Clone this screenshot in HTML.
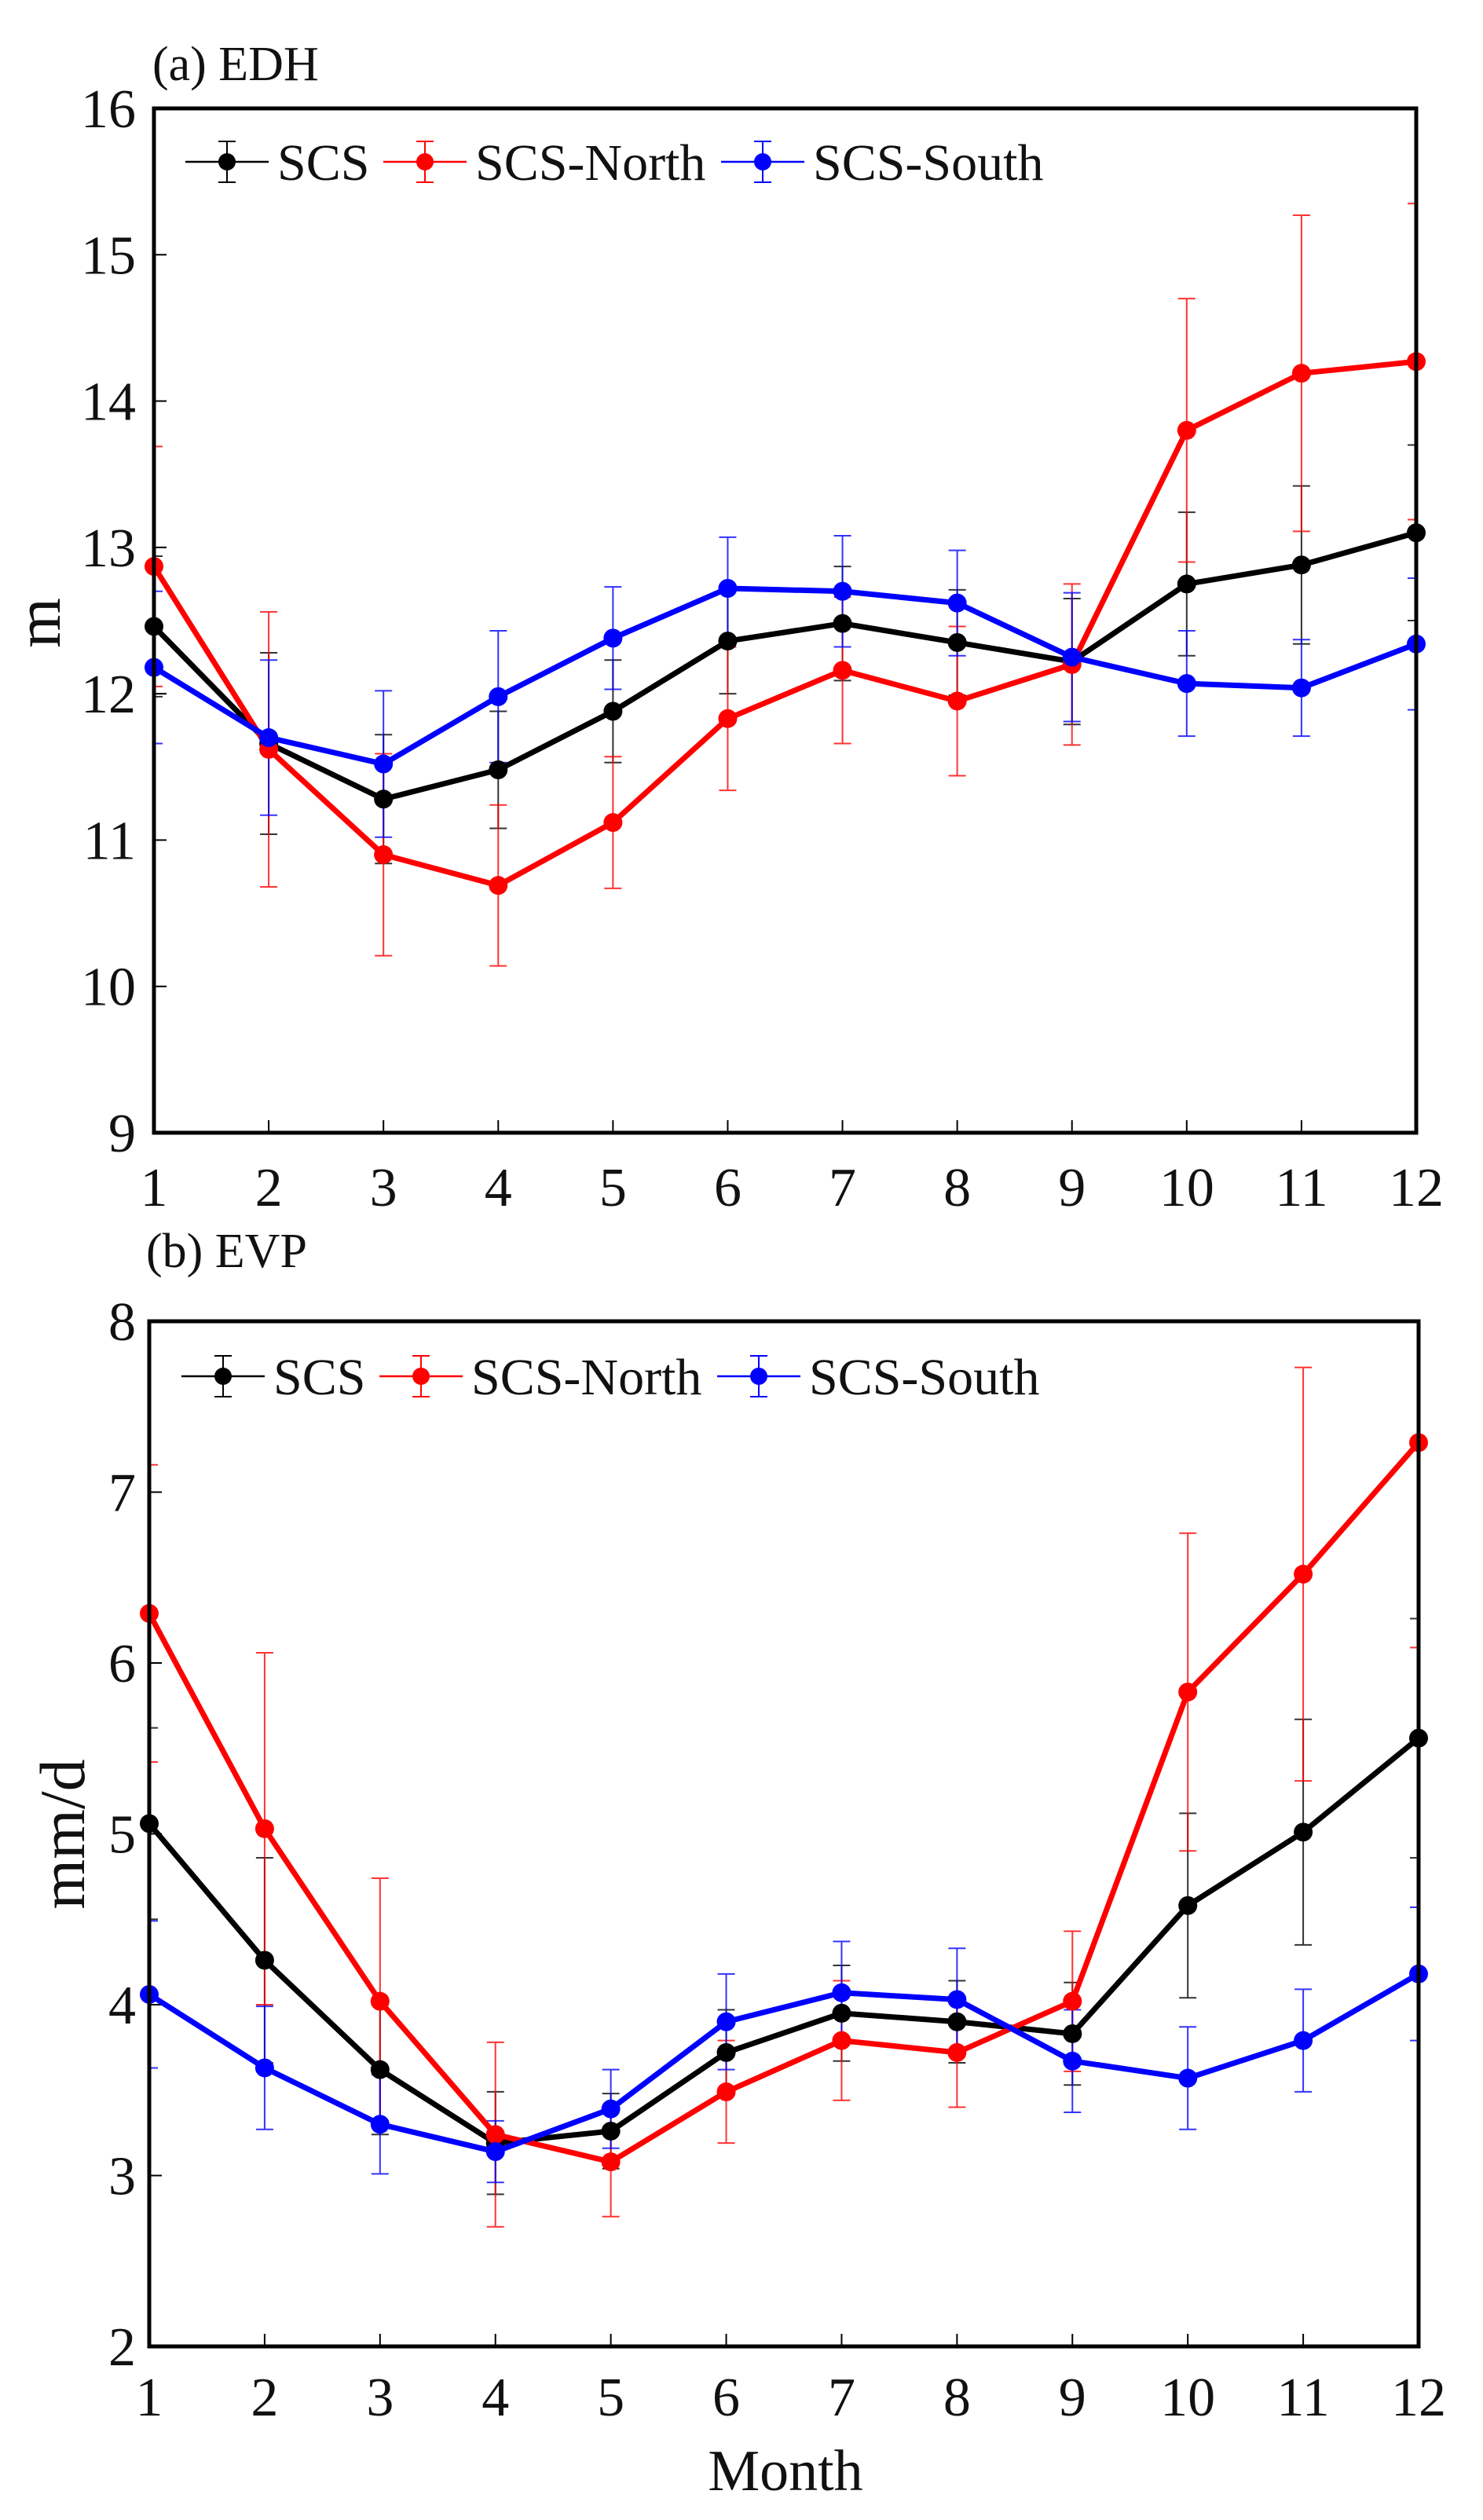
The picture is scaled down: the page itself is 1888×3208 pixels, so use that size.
<!DOCTYPE html>
<html><head><meta charset="utf-8"><style>
html,body{margin:0;padding:0;background:#fff;}
svg{display:block;}
text{font-family:"Liberation Serif","Times New Roman",serif;fill:#111;}
</style></head><body>
<svg id="chart" width="1888" height="3208" viewBox="0 0 1888 3208" xmlns="http://www.w3.org/2000/svg" font-family="Liberation Serif, serif">
<defs>
<clipPath id="clipA"><rect x="196" y="138" width="1607" height="1304"/></clipPath>
<clipPath id="clipB"><rect x="190" y="1682" width="1616" height="1305"/></clipPath>
</defs>
<g id="panelA"></g>
<g id="panelB"></g>
</svg>
<script>
const months = [1,2,3,4,5,6,7,8,9,10,11,12];
const seriesNames = ["SCS","SCS-North","SCS-South"];
const seriesColors = ["#000000","#ff0000","#0000ff"];

// Panel (a) EDH
const edhTicks = [9,10,11,12,13,14,15,16];
const edhSCS = [12.46,11.66,11.28,11.48,11.88,12.36,12.48,12.35,12.22,12.75,12.88,13.10];
const edhSCSErr = [0.48,0.62,0.44,0.40,0.35,0.36,0.39,0.36,0.43,0.49,0.54,0.60];
const edhNorth = [12.87,11.62,10.90,10.69,11.12,11.83,12.16,11.95,12.20,13.80,14.19,14.27];
const edhNorthErr = [0.82,0.94,0.69,0.55,0.45,0.49,0.50,0.51,0.55,0.90,1.08,1.08];
const edhSouth = [12.18,11.70,11.52,11.98,12.38,12.72,12.70,12.62,12.25,12.07,12.04,12.34];
const edhSouthErr = [0.52,0.53,0.50,0.45,0.35,0.35,0.38,0.36,0.44,0.36,0.33,0.45];

// Panel (b) EVP
const evpTicks = [2,3,4,5,6,7,8];
const evpSCS = [5.06,4.26,3.62,3.19,3.26,3.72,3.95,3.90,3.83,4.58,5.01,5.56];
const evpSCSErr = [0.56,0.60,0.38,0.30,0.22,0.25,0.28,0.24,0.30,0.54,0.66,0.70];
const evpNorth = [6.29,5.03,4.02,3.24,3.08,3.49,3.79,3.72,4.02,5.83,6.52,7.29];
const evpNorthErr = [0.87,1.03,0.72,0.54,0.32,0.30,0.35,0.32,0.41,0.93,1.21,1.20];
const evpSouth = [4.06,3.63,3.30,3.14,3.39,3.90,4.07,4.03,3.67,3.57,3.79,4.18];
const evpSouthErr = [0.43,0.36,0.29,0.18,0.23,0.28,0.30,0.30,0.30,0.30,0.30,0.39];

const NS = "http://www.w3.org/2000/svg";
function mk(tag, attrs, parent){
  const e = document.createElementNS(NS, tag);
  for (const k in attrs) e.setAttribute(k, attrs[k]);
  parent.appendChild(e);
  return e;
}

function drawPanel(g, cfg){
  const L=cfg.left, R=cfg.right, T=cfg.top, B=cfg.bottom;
  const ymin=cfg.ticks[0], ymax=cfg.ticks[cfg.ticks.length-1];
  const xs = m => L + (m-1)*(R-L)/11;
  const ys = v => B - (v-ymin)*(B-T)/(ymax-ymin);

  const title = mk("text",{x:cfg.titleX,y:cfg.titleY,"font-size":62},g);
  title.textContent = cfg.title;
  
  

  cfg.ticks.forEach(t=>{
    const y=ys(t);
    const tk=mk("line",{x1:L,x2:L+16,y1:y,y2:y,stroke:"#000","stroke-width":2},g);
    
    
    const lb=mk("text",{x:173,y:y+24,"font-size":70,"text-anchor":"end"},g);
    lb.textContent=t;
    
    
  });
  months.forEach(m=>{
    const x=xs(m);
    const tk=mk("line",{x1:x,x2:x,y1:B,y2:B-16,stroke:"#000","stroke-width":2},g);
    
    
    const lb=mk("text",{x:x,y:cfg.xlabY,"font-size":70,"text-anchor":"middle"},g);
    lb.textContent=m;
    
    
  });

  const yt=mk("text",{x:0,y:0,"font-size":82,"text-anchor":"middle",transform:`translate(${cfg.ylabX},${cfg.ylabY}) rotate(-90)`},g);
  yt.textContent=cfg.ylab;
  
  

  const clipG=mk("g",{"clip-path":`url(#${cfg.clip})`},g);
  cfg.series.forEach((s,i)=>{
    const col=seriesColors[i];
    const sg=mk("g",{},clipG);
    
    
    s.vals.forEach((v,k)=>{
      const x=xs(months[k]), y1=ys(v+s.err[k]), y2=ys(v-s.err[k]);
      const eb=mk("path",{d:`M${x},${y1}V${y2}M${x-11},${y1}H${x+11}M${x-11},${y2}H${x+11}`,stroke:col,"stroke-width":2,fill:"none",opacity:0.8},sg);
      
      
    });
  });
  cfg.series.forEach((s,i)=>{
    const col=seriesColors[i];
    const pts=s.vals.map((v,k)=>xs(months[k])+","+ys(v)).join(" ");
    const ln=mk("polyline",{points:pts,stroke:col,"stroke-width":7,fill:"none","stroke-linejoin":"round"},g);
    
    
    s.vals.forEach((v,k)=>{
      const c=mk("circle",{cx:xs(months[k]),cy:ys(v),r:12,fill:col},g);
      
      
    });
  });

  const fr=mk("rect",{x:L,y:T,width:R-L,height:B-T,fill:"none",stroke:"#000","stroke-width":5},g);
  
  

  const lg=mk("g",{},g);
  
  
  const lx=[236,488,918], ly=cfg.legY, dx=cfg.legDx;
  seriesNames.forEach((n,i)=>{
    const x0=lx[i]+dx, col=seriesColors[i];
    const e=mk("g",{},lg);
    
    
    mk("line",{x1:x0,x2:x0+106,y1:ly,y2:ly,stroke:col,"stroke-width":2.5},e);
    mk("path",{d:`M${x0+53},${ly-26}V${ly+26}M${x0+42},${ly-26}H${x0+64}M${x0+42},${ly+26}H${x0+64}`,stroke:col,"stroke-width":2,fill:"none"},e);
    mk("circle",{cx:x0+53,cy:ly,r:11,fill:col},e);
    const t=mk("text",{x:x0+117,y:ly+23,"font-size":66},e);
    t.textContent=n;
  });
}

drawPanel(document.getElementById("panelA"),{
  left:196,right:1803,top:138,bottom:1442,ticks:edhTicks,clip:"clipA",
  title:"(a)  EDH",titleX:194,titleY:102,xlabY:1535,
  ylab:"m",ylabX:76,ylabY:793,legY:206,legDx:0,
  series:[{vals:edhSCS,err:edhSCSErr},{vals:edhNorth,err:edhNorthErr},{vals:edhSouth,err:edhSouthErr}]
});
drawPanel(document.getElementById("panelB"),{
  left:190,right:1806,top:1682,bottom:2987,ticks:evpTicks,clip:"clipB",
  title:"(b) EVP",titleX:186,titleY:1613,xlabY:3075,
  ylab:"mm/d",ylabX:107,ylabY:2335,legY:1752,legDx:-5,
  series:[{vals:evpSCS,err:evpSCSErr},{vals:evpNorth,err:evpNorthErr},{vals:evpSouth,err:evpSouthErr}]
});
const mt=mk("text",{x:1000,y:3170,"font-size":74,"text-anchor":"middle"},document.getElementById("chart"));
mt.textContent="Month";


</script>
</body></html>
